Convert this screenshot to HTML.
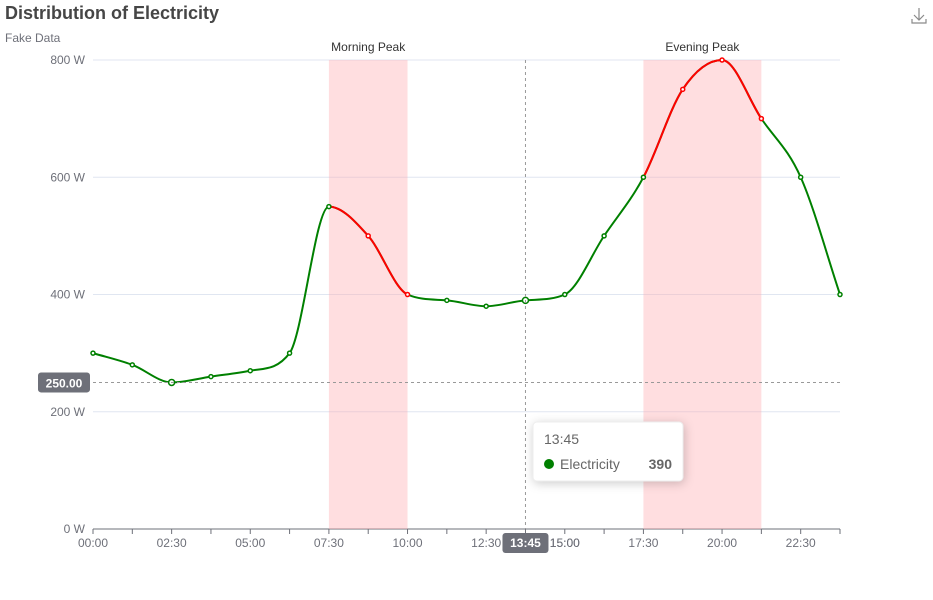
<!DOCTYPE html>
<html><head><meta charset="utf-8"><style>
body{margin:0;background:#fff;font-family:"Liberation Sans",sans-serif;}
svg{display:block}
</style></head><body>
<svg id="c" width="933" height="600">
<text x="5" y="19" font-size="18" font-weight="bold" fill="#464646">Distribution of Electricity</text>
<text x="5" y="42" font-size="12" fill="#6e7079">Fake Data</text>
<g stroke="#8a8a8a" fill="none" stroke-width="1.2">
<path d="M919 8v12M914 15l5 5 5-5M912 19v4h14v-4"/></g>
<g id="grid"></g><g id="areas"></g><g id="lines"></g><g id="pts"></g><g id="axes"></g><g id="ptr"></g>
</svg>
<script>
const categories=['00:00','01:15','02:30','03:45','05:00','06:15','07:30','08:45','10:00','11:15','12:30','13:45','15:00','16:15','17:30','18:45','20:00','21:15','22:30','23:45'];
const values=[300,280,250,260,270,300,550,500,400,390,380,390,400,500,600,750,800,700,600,400];
const yTicks=[0,200,400,600,800];
const markAreas=[['Morning Peak','07:30','10:00'],['Evening Peak','17:30','21:15']];
const redRanges=[[6,8],[14,17]];
const hoverIndex=11;
const pointerValue=250;
const NS='http://www.w3.org/2000/svg';
const X0=93,X1=840,Y0=529,Y1=60;
const xs=i=>X0+(X1-X0)*i/(categories.length-1);
const ys=v=>Y0-(Y0-Y1)*v/800;
function el(t,a,p){const e=document.createElementNS(NS,t);for(const k in a)e.setAttribute(k,a[k]);document.getElementById(p).appendChild(e);return e;}
yTicks.forEach(t=>{
 const l=el('line',{x1:X0,x2:X1,y1:ys(t),y2:ys(t),stroke:t?'#e0e6f1':'#6e7079'},'grid');
 
 
 const tx=el('text',{x:X0-8,y:ys(t)+4,'text-anchor':'end','font-size':12,fill:'#6e7079'},'axes');tx.textContent=t+' W';
 
 
});
categories.forEach((c,i)=>{
 el('line',{x1:xs(i),x2:xs(i),y1:Y0,y2:Y0+5,stroke:'#6e7079'},'axes');
 if(i%2===0){const tx=el('text',{x:xs(i),y:Y0+18,'text-anchor':'middle','font-size':12,fill:'#6e7079'},'axes');tx.textContent=c;
 
 }
});
{const tx=el('text',{x:xs(12),y:Y0+18,'text-anchor':'middle','font-size':12,fill:'#6e7079'},'axes');tx.textContent=categories[12];}
markAreas.forEach(m=>{
 const a=xs(categories.indexOf(m[1])),b=xs(categories.indexOf(m[2]));
 const r=el('rect',{x:a,y:Y1,width:b-a,height:Y0-Y1,fill:'rgba(255,173,177,0.4)'},'areas');
 
 
 const t=el('text',{x:(a+b)/2,y:Y1-9,'text-anchor':'middle','font-size':12,fill:'#333'},'areas');t.textContent=m[0];
 
 
});
// monotone-x smooth path
const P=values.map((v,i)=>[xs(i),ys(v)]);
const n=P.length,h=P[1][0]-P[0][0];
const sec=[];for(let i=0;i<n-1;i++)sec.push((P[i+1][1]-P[i][1])/h);
const m=[];
for(let i=0;i<n;i++){
 if(i===0)m.push(sec[0]);else if(i===n-1)m.push(sec[n-2]);
 else{const a=sec[i-1],b=sec[i];m.push(a*b<=0?0:(a+b)/2);}
}
for(let i=0;i<n-1;i++){
 if(sec[i]===0){m[i]=0;m[i+1]=0;continue;}
 const a=m[i]/sec[i],b=m[i+1]/sec[i],s=a*a+b*b;
 if(s>9){const t=3/Math.sqrt(s);m[i]=t*a*sec[i];m[i+1]=t*b*sec[i];}
}
let d='M'+P[0][0]+' '+P[0][1];
for(let i=0;i<n-1;i++){
 const dx=h/3;
 d+=` C${P[i][0]+dx} ${P[i][1]+m[i]*dx} ${P[i+1][0]-dx} ${P[i+1][1]-m[i+1]*dx} ${P[i+1][0]} ${P[i+1][1]}`;
}
const cp=el('clipPath',{id:'red'},'lines');
redRanges.forEach(r=>el('rect',{x:xs(r[0]),y:0,width:xs(r[1])-xs(r[0]),height:600},'red'));
const g=el('path',{d,fill:'none',stroke:'green','stroke-width':2},'lines');


const rl=el('path',{d,fill:'none',stroke:'red','stroke-width':2,'clip-path':'url(#red)'},'lines');


const isRed=i=>redRanges.some(r=>i>r[0]&&i<=r[1]);
values.forEach((v,i)=>{
 const c=el('circle',{cx:xs(i),cy:ys(v),r:(i===hoverIndex||i===2)?3:2,fill:'#fff',stroke:isRed(i)?'red':'green','stroke-width':1.5},'pts');
 
 
});
const hx=xs(hoverIndex),py=ys(pointerValue);
el('line',{x1:hx,x2:hx,y1:Y1,y2:Y0,stroke:'#999','stroke-dasharray':'3,3'},'ptr');
el('line',{x1:X0,x2:X1,y1:py,y2:py,stroke:'#999','stroke-dasharray':'3,3'},'ptr');
el('rect',{x:38,y:py-10,width:52,height:20,rx:3,fill:'#6e7079'},'ptr');
let t=el('text',{x:64,y:py+5,'text-anchor':'middle','font-size':12,fill:'#fff','font-weight':'bold'},'ptr');t.textContent=pointerValue.toFixed(2);
el('rect',{x:hx-23,y:Y0+4,width:46,height:20,rx:3,fill:'#6e7079'},'ptr');
t=el('text',{x:hx,y:Y0+18,'text-anchor':'middle','font-size':12,fill:'#fff','font-weight':'bold'},'ptr');t.textContent=categories[hoverIndex];
el('rect',{x:533,y:422,width:150,height:59,rx:4,fill:'#fff',stroke:'#eee',style:'filter:drop-shadow(1px 2px 5px rgba(0,0,0,0.2))'},'ptr');
t=el('text',{x:544,y:444,'font-size':14,fill:'#666'},'ptr');t.textContent=categories[hoverIndex];
el('circle',{cx:549,cy:464,r:5,fill:'green'},'ptr');
t=el('text',{x:560,y:469,'font-size':14,fill:'#666'},'ptr');t.textContent='Electricity';
t=el('text',{x:672,y:469,'font-size':14,fill:'#666','font-weight':'bold','text-anchor':'end'},'ptr');t.textContent=values[hoverIndex];
</script>
</body></html>
